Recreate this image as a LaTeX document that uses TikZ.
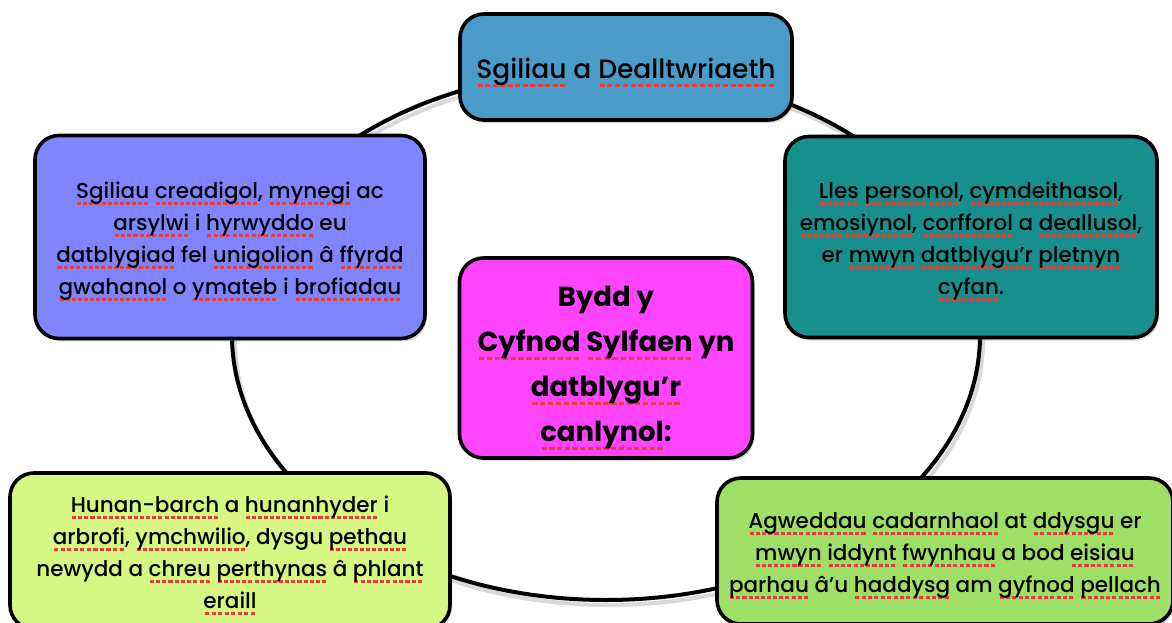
\documentclass[tikz,border=0pt]{standalone}
\usepackage{fontspec}
\IfFontExistsTF{Poppins Medium}{\setmainfont{Poppins Medium}[BoldFont={Poppins Bold}]}{\setmainfont{Poppins}}
\usetikzlibrary{shadows}
\definecolor{sqred}{RGB}{235,60,60}
\definecolor{topc}{RGB}{74,155,200}
\definecolor{leftc}{RGB}{127,133,255}
\definecolor{rightc}{RGB}{23,143,140}
\definecolor{midc}{RGB}{255,68,255}
\definecolor{blc}{RGB}{214,247,132}
\definecolor{brc}{RGB}{159,223,102}
\newcommand\sq[1]{\setbox0=\hbox{#1}\leavevmode\rlap{\color{sqred}\lower 0.32em\hbox to \wd0{\xleaders\hbox to 0.28em{\hss\vrule height 0.12em depth 0pt width 0.19em\hss}\hfill}}\box0\relax}
\newcommand\tstrut[1]{\rule{0pt}{#1pt}}
\begin{document}
\begin{tikzpicture}[x=1pt,y=-1pt,
  box/.style={draw=black, line width=3.6pt, rounded corners=24pt, align=center, inner sep=0pt,
    drop shadow={opacity=0.3, shadow xshift=2pt, shadow yshift=-3pt}},
  body/.style={font=\fontsize{21.5}{32}\selectfont},
  ring/.style={line width=4pt}]
\useasboundingbox (0,0) rectangle (1172,623);
\clip (0,0) rectangle (1172,623);
% ring with soft shadow
\draw[ring, black, opacity=0.15] (609,340) ellipse [x radius=374, y radius=265];
\draw[ring] (606,335) ellipse [x radius=374, y radius=265];
% boxes
\node[box, fill=topc, minimum width=332, minimum height=106, font=\fontsize{26.5}{30}\selectfont] (top) at (626,67)
  {\tstrut{31}\sq{Sgiliau} a \sq{Dealltwriaeth}};
\node[box, body, fill=leftc, minimum width=390, minimum height=203] (left) at (230,237)
  {\tstrut{25}\sq{Sgiliau} \sq{creadigol}, \sq{mynegi} ac\\
   \sq{arsylwi} i \sq{hyrwyddo} eu\\
   \sq{datblygiad} fel \sq{unigolion} â \sq{ffyrdd}\\
   \sq{gwahanol} o \sq{ymateb} i \sq{brofiadau}};
\node[box, body, fill=rightc, minimum width=372, minimum height=201] (right) at (971,237)
  {\tstrut{25}\sq{Lles} \sq{personol}, \sq{cymdeithasol},\\
   \sq{emosiynol}, \sq{corfforol} a \sq{deallusol},\\
   er \sq{mwyn} \sq{datblygu’r} \sq{pletnyn}\\
   \sq{cyfan}.};
\node[box, fill=midc, minimum width=293, minimum height=200, font=\bfseries\fontsize{27.5}{45}\selectfont] (mid) at (606,358)
  {\tstrut{41}Bydd y\\
   \sq{Cyfnod} \sq{Sylfaen} yn\\
   \sq{datblygu’r}\\
   \sq{canlynol}:};
\node[box, body, fill=blc, minimum width=440, minimum height=156] (bl) at (230,551)
  {\tstrut{25}\sq{Hunan-barch} a \sq{hunanhyder} i\\
   \sq{arbrofi}, \sq{ymchwilio}, dysgu \sq{pethau}\\
   newydd a \sq{chreu} \sq{perthynas} â \sq{phlant}\\
   \sq{eraill}};
\node[box, body, fill=brc, minimum width=456, minimum height=146] (br) at (945,551)
  {\tstrut{25}\sq{Agweddau} \sq{cadarnhaol} at \sq{ddysgu} er\\
   \sq{mwyn} \sq{iddynt} \sq{fwynhau} a bod \sq{eisiau}\\
   \sq{parhau} â’u \sq{haddysg} am \sq{gyfnod} \sq{pellach}};
\end{tikzpicture}
\end{document}
